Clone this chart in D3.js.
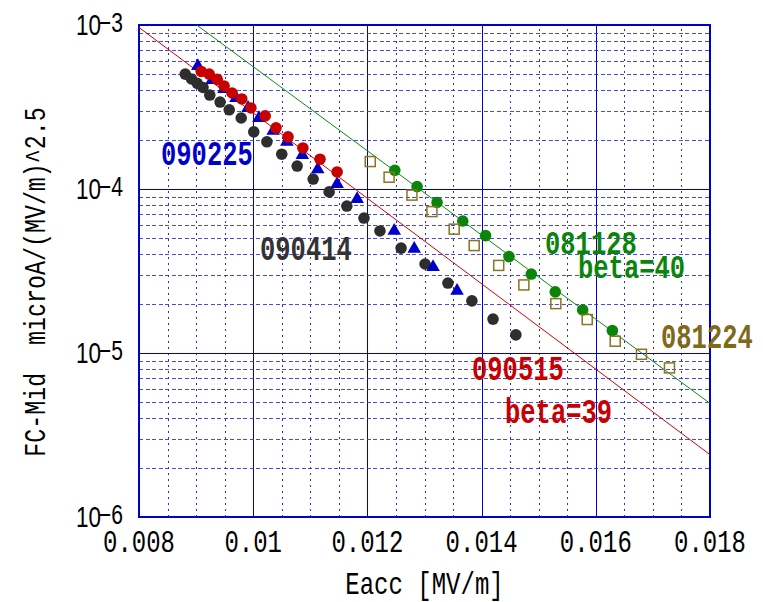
<!DOCTYPE html>
<html>
<head>
<meta charset="utf-8">
<script src="https://cdn.jsdelivr.net/npm/d3@7"></script>
<style>
  body { margin: 0; background: #fff; }
</style>
</head>
<body>
<div id="chart"></div>
<script>
// axis ticks
const xTicks = [0.008, 0.010, 0.012, 0.014, 0.016, 0.018]
const xTickLabels = ['0.008', '0.01', '0.012', '0.014', '0.016', '0.018']
const yTicks = [1e-6, 1e-5, 1e-4, 1e-3]
const yTickExps = ['\u22126', '\u22125', '\u22124', '\u22123']

// 090414 (black circles)
const s090414X = [0.00881, 0.00892, 0.00902, 0.00912, 0.00924, 0.00942, 0.00958, 0.00979, 0.01001, 0.01024, 0.0105, 0.01077,
  0.01105, 0.01133, 0.01164, 0.01194, 0.01222, 0.01259, 0.01301, 0.01341, 0.01383, 0.0142, 0.0146]
const s090414Y = [5.02e-4, 4.69e-4, 4.41e-4, 4.16e-4, 3.74e-4, 3.39e-4, 3.04e-4, 2.71e-4, 2.23e-4, 1.94e-4, 1.63e-4, 1.38e-4,
  1.15e-4, 9.6e-5, 7.87e-5, 6.65e-5, 5.55e-5, 4.36e-5, 3.49e-5, 2.67e-5, 2.08e-5, 1.61e-5, 1.29e-5]

// 090225 (blue triangles)
const s090225X = [0.00903, 0.00928, 0.00949, 0.0097, 0.00991, 0.0101, 0.01035, 0.01059, 0.01086, 0.01113, 0.01147, 0.01182,
  0.01247, 0.01282, 0.01315, 0.01357]
const s090225Y = [5.62e-4, 4.62e-4, 4.07e-4, 3.59e-4, 3.12e-4, 2.71e-4, 2.26e-4, 1.94e-4, 1.61e-4, 1.32e-4, 1.07e-4, 8.69e-5,
  5.55e-5, 4.31e-5, 3.34e-5, 2.39e-5]

// 090515 (red circles)
const s090515X = [0.00909, 0.00923, 0.00937, 0.00949, 0.00963, 0.0098, 0.00996, 0.01021, 0.0104, 0.01061, 0.01087, 0.01117, 0.01147]
const s090515Y = [5.21e-4, 5.02e-4, 4.66e-4, 4.25e-4, 3.85e-4, 3.54e-4, 3.12e-4, 2.79e-4, 2.36e-4, 2.08e-4, 1.78e-4, 1.52e-4, 1.27e-4]

// 081128 (green circles)
const s081128X = [0.01248, 0.01287, 0.01322, 0.01367, 0.01407, 0.01448, 0.01487, 0.01529, 0.01577, 0.01629]
const s081128Y = [1.30e-4, 1.035e-4, 8.28e-5, 6.38e-5, 5.20e-5, 3.87e-5, 3.03e-5, 2.36e-5, 1.83e-5, 1.37e-5]

// 081224 (open squares)
const s081224X = [0.01205, 0.01238, 0.01278, 0.01313, 0.01352, 0.01387, 0.0143, 0.01474, 0.0153, 0.01585, 0.01634, 0.0168, 0.01729]
const s081224Y = [1.47e-4, 1.18e-4, 9.18e-5, 7.28e-5, 5.69e-5, 4.52e-5, 3.42e-5, 2.60e-5, 2.00e-5, 1.60e-5, 1.18e-5, 9.82e-6, 8.11e-6]

// fit lines
const fitRedX = [0.008, 0.018]
const fitRedY = [9.66e-4, 2.40e-6]
const fitGreenX = [0.00901, 0.018]
const fitGreenY = [1.0e-3, 4.93e-6]

const W = 763, H = 602
const margin = { top: 25, right: 53, bottom: 85, left: 139 }
const width = W - margin.left - margin.right
const height = H - margin.top - margin.bottom

const mono = "'Liberation Mono', 'DejaVu Sans Mono', monospace"
const sans = "'Liberation Sans', Arial, sans-serif"
const gridBlue = '#2a2ad8'

const svgRoot = d3.select('#chart')
  .append('svg')
  .attr('width', W)
  .attr('height', H)

const svg = svgRoot.append('g')
  .attr('transform', `translate(${margin.left}, ${margin.top})`)

const x = d3.scaleLinear().domain([0.008, 0.018]).range([0, width])
const y = d3.scaleLog().domain([1e-6, 1e-3]).range([height, 0])

svgRoot.append('defs').append('clipPath').attr('id', 'plot')
  .append('rect').attr('width', width).attr('height', height)

// vertical grid
const minorX = d3.range(17, 36).filter(i => i % 4 !== 0).map(i => i * 0.0005)
const majorX = [0.010, 0.012, 0.014, 0.016]

const gxMinor = svg.append('g')
  .attr('transform', `translate(0, ${height})`)
  .call(d3.axisBottom(x).tickValues(minorX).tickSize(-height).tickFormat(''))
gxMinor.select('.domain').remove()
gxMinor.selectAll('line')
  .attr('stroke', gridBlue)
  .attr('stroke-dasharray', '2,4')
  .attr('shape-rendering', 'crispEdges')

const gxMajor = svg.append('g')
  .attr('transform', `translate(0, ${height})`)
  .call(d3.axisBottom(x).tickValues(majorX).tickSize(-height).tickFormat(''))
gxMajor.select('.domain').remove()
gxMajor.selectAll('line')
  .attr('stroke', '#0000c8')
  .attr('shape-rendering', 'crispEdges')

// horizontal grid
const isDecade = v => Math.abs(Math.log10(v) - Math.round(Math.log10(v))) < 1e-6
const minorY = y.ticks().filter(v => !isDecade(v))
const majorY = [1e-5, 1e-4]

const gyMinor = svg.append('g')
  .call(d3.axisLeft(y).tickValues(minorY).tickSize(-width).tickFormat(''))
gyMinor.select('.domain').remove()
gyMinor.selectAll('line')
  .attr('stroke', gridBlue)
  .attr('stroke-opacity', 0.85)
  .attr('stroke-dasharray', '4,2.5')
  .attr('shape-rendering', 'crispEdges')

const gyMajor = svg.append('g')
  .call(d3.axisLeft(y).tickValues(majorY).tickSize(-width).tickFormat(''))
gyMajor.select('.domain').remove()
gyMajor.selectAll('line')
  .attr('stroke', '#0000c8')
  .attr('shape-rendering', 'crispEdges')

// frame
svg.append('rect')
  .attr('width', width)
  .attr('height', height)
  .attr('fill', 'none')
  .attr('stroke', '#0000cc')
  .attr('stroke-width', 2)

// fit lines
const plot = svg.append('g').attr('clip-path', 'url(#plot)')
const line = d3.line().x(d => x(d[0])).y(d => y(d[1]))

plot.append('path')
  .datum(d3.zip(fitRedX, fitRedY))
  .attr('d', line)
  .attr('fill', 'none')
  .attr('stroke', '#d40000')
  .attr('stroke-width', 1)

plot.append('path')
  .datum(d3.zip(fitGreenX, fitGreenY))
  .attr('d', line)
  .attr('fill', 'none')
  .attr('stroke', '#108a10')
  .attr('stroke-width', 1)

// markers
svg.append('g').selectAll('circle')
  .data(d3.zip(s090414X, s090414Y))
  .enter().append('circle')
  .attr('cx', d => x(d[0]))
  .attr('cy', d => y(d[1]))
  .attr('r', 5.8)
  .attr('fill', '#2e2e2e')

svg.append('g').selectAll('path')
  .data(d3.zip(s090225X, s090225Y))
  .enter().append('path')
  .attr('d', d3.symbol(d3.symbolTriangle, 80))
  .attr('transform', d => `translate(${x(d[0])}, ${y(d[1])})`)
  .attr('fill', '#0000cc')

svg.append('g').selectAll('circle')
  .data(d3.zip(s090515X, s090515Y))
  .enter().append('circle')
  .attr('cx', d => x(d[0]))
  .attr('cy', d => y(d[1]))
  .attr('r', 5.8)
  .attr('fill', '#c80000')

svg.append('g').selectAll('circle')
  .data(d3.zip(s081128X, s081128Y))
  .enter().append('circle')
  .attr('cx', d => x(d[0]))
  .attr('cy', d => y(d[1]))
  .attr('r', 5.8)
  .attr('fill', '#0a850a')

svg.append('g').selectAll('rect')
  .data(d3.zip(s081224X, s081224Y))
  .enter().append('rect')
  .attr('x', d => x(d[0]) - 5)
  .attr('y', d => y(d[1]) - 5)
  .attr('width', 10)
  .attr('height', 10)
  .attr('fill', 'none')
  .attr('stroke', '#8a7420')
  .attr('stroke-width', 1.5)

// text helper: tall narrow look of the original font
const tallText = (g, px, py, str, size, color, anchor, bold, sy) => g.append('text')
  .attr('transform', `translate(${px}, ${py}) scale(1, ${sy})`)
  .attr('text-anchor', anchor)
  .attr('font-family', mono)
  .attr('font-size', size)
  .attr('font-weight', bold ? 'bold' : 'normal')
  .attr('fill', color)
  .attr('xml:space', 'preserve')
  .style('white-space', 'pre')
  .text(str)

// x tick labels
xTicks.forEach((v, i) => tallText(svg, x(v), height + 35, xTickLabels[i], 24, '#000', 'middle', false, 1.32))

// y tick labels 10^n
yTicks.forEach((v, i) => {
  svg.append('text')
    .attr('transform', `translate(-38, ${y(v) + 10}) scale(0.75, 1)`)
    .attr('text-anchor', 'end')
    .attr('font-family', sans)
    .attr('font-size', 30)
    .attr('fill', '#000')
    .text('10')
  svg.append('text')
    .attr('transform', `translate(-16, ${y(v) + 7}) scale(0.78, 1)`)
    .attr('text-anchor', 'end')
    .attr('font-family', sans)
    .attr('font-size', 27)
    .attr('fill', '#000')
    .text(yTickExps[i])
})

// axis titles
tallText(svgRoot, margin.left + width / 2, 594, 'Eacc [MV/m]', 24, '#000', 'middle', false, 1.3)
svgRoot.append('text')
  .attr('transform', `translate(45, 282) rotate(-90) scale(1, 1.3)`)
  .attr('text-anchor', 'middle')
  .attr('font-family', mono)
  .attr('font-size', 23.3)
  .attr('fill', '#000')
  .attr('xml:space', 'preserve')
  .style('white-space', 'pre')
  .text('FC-Mid  microA/(MV/m)^2.5')

// series annotations
tallText(svgRoot, 161, 165, '090225', 25.5, '#0000cc', 'start', true, 1.38)
tallText(svgRoot, 260, 260, '090414', 25.5, '#333333', 'start', true, 1.38)
tallText(svgRoot, 545, 254, '081128', 25.5, '#0a850a', 'start', true, 1.3)
tallText(svgRoot, 578, 278, 'beta=40', 25.5, '#0a850a', 'start', true, 1.3)
tallText(svgRoot, 661, 348, '081224', 25.5, '#7f6a1a', 'start', true, 1.38)
tallText(svgRoot, 472, 380, '090515', 25.5, '#c80000', 'start', true, 1.38)
tallText(svgRoot, 505, 423, 'beta=39', 25.5, '#c80000', 'start', true, 1.38)
</script>
</body>
</html>
